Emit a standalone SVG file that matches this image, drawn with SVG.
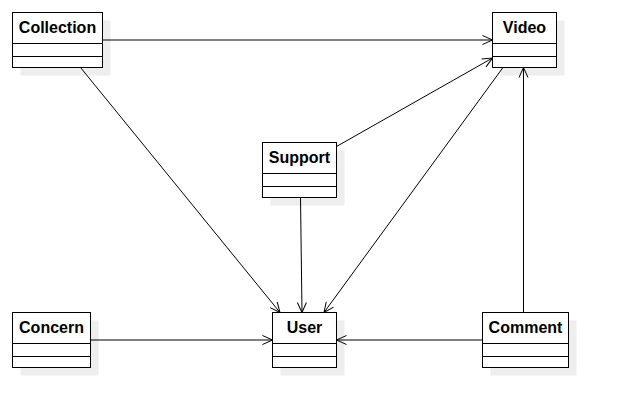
<svg xmlns="http://www.w3.org/2000/svg" width="617" height="417" viewBox="0 0 617 417">
<style>
.shadow{fill:#eeeeee;stroke:none}
.box{fill:#ffffff;stroke:#000000;stroke-width:1}
.div{stroke:#000000;stroke-width:1;fill:none}
.lbl{font-family:"Liberation Sans",Arial,sans-serif;font-size:16px;font-weight:bold;fill:#000000;text-anchor:middle}
.edge{stroke:#000000;stroke-width:1;fill:none;marker-end:url(#open)}
</style>
<defs>
<marker id="open" markerUnits="userSpaceOnUse" markerWidth="14" markerHeight="12" viewBox="-12 -6 14 12" refX="0" refY="0" orient="auto">
<path d="M -10 -4.5 L 0 0 L -10 4.5" fill="none" stroke="#000000" stroke-width="1"/>
</marker>
</defs>
<rect x="0" y="0" width="617" height="417" fill="#ffffff"/>
<g id="shadows">
<rect class="shadow" x="20.5" y="20.5" width="90" height="55"/>
<rect class="shadow" x="500.5" y="20.5" width="64" height="55"/>
<rect class="shadow" x="270.5" y="150.5" width="74" height="55"/>
<rect class="shadow" x="20.5" y="320.5" width="78" height="55"/>
<rect class="shadow" x="280.5" y="320.5" width="64" height="55"/>
<rect class="shadow" x="490.5" y="320.5" width="86" height="55"/>
</g>
<g id="connectors">
<line class="edge" x1="102.5" y1="40" x2="492.5" y2="40"/>
<line class="edge" x1="80.5" y1="67.5" x2="280" y2="312.5"/>
<line class="edge" x1="336.5" y1="146.5" x2="492.5" y2="58"/>
<line class="edge" x1="503" y1="67.5" x2="324" y2="312.5"/>
<line class="edge" x1="300.5" y1="197.5" x2="302" y2="312.5"/>
<line class="edge" x1="90.5" y1="340" x2="272.5" y2="340"/>
<line class="edge" x1="482.5" y1="340" x2="336.5" y2="340"/>
<line class="edge" x1="523.5" y1="312.5" x2="523.5" y2="67.5"/>
</g>
<g id="Collection">
<rect class="box" x="12.5" y="12.5" width="90" height="55"/>
<path class="div" d="M12.5 43.5 H102.5 M12.5 56.5 H102.5"/>
<text class="lbl" x="57.5" y="32.5">Collection</text>
</g>
<g id="Video">
<rect class="box" x="492.5" y="12.5" width="64" height="55"/>
<path class="div" d="M492.5 43.5 H556.5 M492.5 56.5 H556.5"/>
<text class="lbl" x="524.5" y="32.5">Video</text>
</g>
<g id="Support">
<rect class="box" x="262.5" y="142.5" width="74" height="55"/>
<path class="div" d="M262.5 173.5 H336.5 M262.5 186.5 H336.5"/>
<text class="lbl" x="299.5" y="162.5">Support</text>
</g>
<g id="Concern">
<rect class="box" x="12.5" y="312.5" width="78" height="55"/>
<path class="div" d="M12.5 343.5 H90.5 M12.5 356.5 H90.5"/>
<text class="lbl" x="51.5" y="332.5">Concern</text>
</g>
<g id="User">
<rect class="box" x="272.5" y="312.5" width="64" height="55"/>
<path class="div" d="M272.5 343.5 H336.5 M272.5 356.5 H336.5"/>
<text class="lbl" x="304.5" y="332.5">User</text>
</g>
<g id="Comment">
<rect class="box" x="482.5" y="312.5" width="86" height="55"/>
<path class="div" d="M482.5 343.5 H568.5 M482.5 356.5 H568.5"/>
<text class="lbl" x="525.5" y="332.5">Comment</text>
</g>
</svg>
